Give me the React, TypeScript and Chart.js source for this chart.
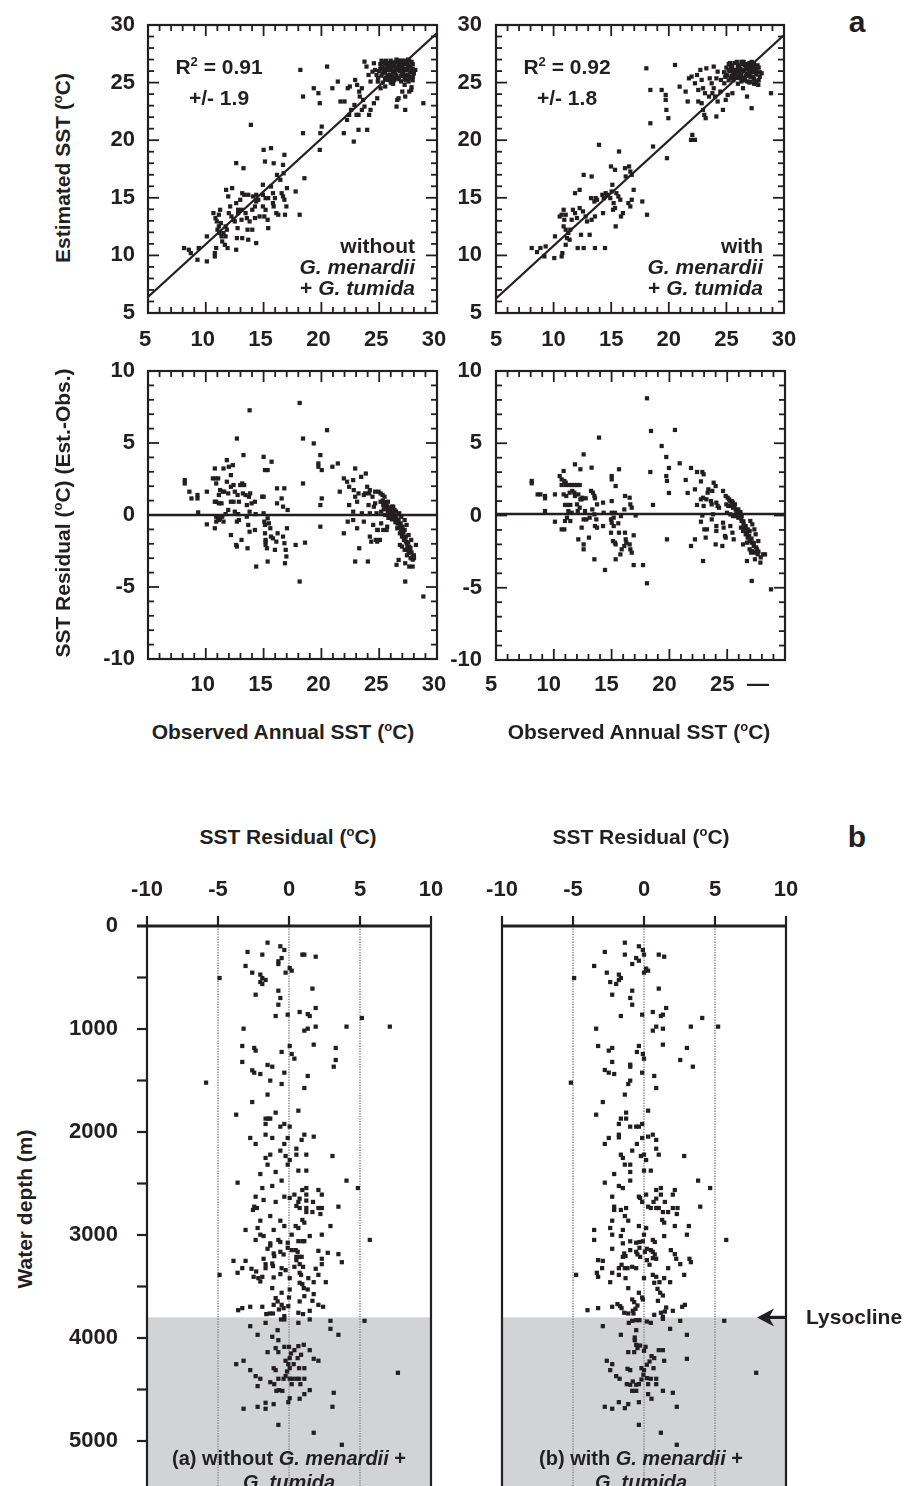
import React, { useEffect, useRef } from 'react';
import { Chart, registerables } from 'chart.js';

Chart.register(...registerables);

type Pair = [number, number];

const INK = '#231f20';
const SHADE = '#d1d3d4';
const GUIDE = '#8f8f8f';
const FONT = "'Liberation Sans', Arial, Helvetica, sans-serif";

// ---------------- DATA ----------------
// Axis values
const sstTicksMin = 5;
const sstTicksMax = 30;
const residMin = -10;
const residMax = 10;
const depthMin = 0;
const depthMax = 6000;
const residualGuides = [-5, 0, 5];
const residualMajor = [-10, -5, 0, 5, 10];
const panelBObsTicks = [5, 10, 15, 20, 25, 28.1]; // last label printed as a dash
const lysoclineDepth = 3800;

// Fit / reference lines
const fitWithout: Pair[] = [[5, 6.4], [30, 29.3]];
const fitWith: Pair[] = [[5, 6.27], [30, 29.13]];
const zeroLine: Pair[] = [[5, 0], [30, 0]];
const zeroLineWith: Pair[] = [[5, 0.1], [30, 0.1]];

// Panel a, top-left: observed vs estimated SST, without G. menardii + G. tumida
const estWithout: Pair[] = [
  [8.12,10.64],[8.53,10.49],[8.7,10.2],[9.39,10.64],[9.28,9.62],[10.09,9.48],[10.09,11.65],[10.78,9.91],[10.78,10.2],[10.9,10.64],
  [10.66,13.67],[10.84,13.24],[10.95,12.95],[11.01,12.23],[11.18,11.94],[11.36,11.65],[11.53,11.94],[11.71,11.65],[11.13,12.52],[11.3,12.8],
  [11.71,12.52],[11.82,12.23],[11.42,11.21],[11.65,10.92],[11.24,13.96],[11.13,13.53],[11.76,15.69],[11.94,15.12],[12.28,15.84],[12.11,14.25],
  [11.99,13.67],[12.22,13.38],[12.4,13.09],[11.88,10.64],[12.63,10.49],[12.63,14.54],[12.8,13.96],[12.8,13.67],[12.98,14.83],[12.51,12.95],
  [12.75,12.37],[13.09,13.09],[13.15,15.4],[13.32,15.26],[13.67,15.26],[13.44,13.67],[13.55,13.24],[13.79,12.95],[12.69,11.5],[13.15,11.5],
  [13.67,11.36],[13.61,12.23],[14.02,12.23],[13.09,13.96],[14.02,13.96],[14.25,14.25],[14.36,14.68],[12.63,18.01],[13.26,17.57],[14.25,13.24],
  [14.65,13.38],[14.36,11.07],[13.9,21.33],[14.08,15.12],[14.36,15.26],[14.54,14.83],[14.94,16.13],[14.94,15.26],[15.17,14.97],[15.4,14.97],
  [14.94,14.25],[15.17,13.96],[15.06,13.38],[15.35,13.09],[15.4,12.37],[15,19.16],[15.12,18.15],[15.64,19.31],[15.87,18],[15.64,15.98],
  [15.81,15.4],[15.98,14.97],[15.81,14.54],[15.87,14.25],[16.1,13.67],[16.27,13.53],[16.16,16.99],[16.45,16.56],[16.73,17.13],[16.56,15.4],
  [16.68,17.86],[16.8,18.73],[16.68,15.12],[16.8,14.83],[16.97,14.25],[16.85,13.53],[17.02,15.84],[17.77,15.55],[18.12,13.53],[18.53,16.7],
  [18.18,26.1],[18.41,23.79],[18.41,20.61],[19.86,23.21],[20.03,21.18],[19.91,20.61],[19.86,19.16],[19.34,24.51],[19.74,24.08],[20.49,26.39],
  [20.95,24.51],[21.42,25.09],[21.65,23.36],[21.94,20.61],[22,23.36],[22.28,24.51],[22.46,24.66],[22.22,21.76],[22.4,22.2],[22.57,22.63],
  [22.86,23.06],[22.8,19.88],[23.21,20.9],[23.96,20.9],[22.92,25.23],[23.09,24.8],[23.27,24.22],[23.5,24.51],[23.32,23.79],[23.04,22.2],
  [23.21,22.2],[23.5,22.63],[23.61,23.5],[23.73,22.92],[23.73,26.82],[23.9,26.39],[24.08,25.66],[24.25,25.09],[24.42,25.95],[24.13,22.2],
  [24.25,22.63],[24.54,23.21],[24.83,23.64],[24.54,26.68],[24.65,26.1],[24.77,25.66],[24.88,25.09],[25.12,24.51],[25.52,24.66],[25.75,25.23],
  [26.16,24.94],[26.39,25.37],[26.68,23.64],[26.56,23.5],[26.5,22.92],[27.25,22.63],[27,24.22],[27.25,23.79],[27.54,25.09],[27.77,24.36],
  [27.6,24.22],[28.12,26.1],[28.82,23.21],
];
const estWithoutCluster: Pair[] = [
  [25,26],[25.2,25.6],[25.3,26.3],[25.4,26.8],[25.5,25.9],[25.6,25.4],[25.7,26.5],[25.8,26.1],[25.9,25.7],[26,26.9],
  [26,26.3],[26.1,25.5],[26.2,26],[26.3,26.6],[26.4,25.8],[26.5,27],[26.5,26.2],[26.6,25.4],[26.7,26.7],[26.8,26],
  [26.9,25.6],[27,26.4],[27,26.9],[27.1,25.9],[27.2,25.3],[27.3,26.6],[27.4,26.1],[27.5,25.7],[27.5,27],[27.6,26.4],
  [27.7,25.5],[27.8,26],[27.9,26.6],[27.9,25.2],[28,25.8],[26.2,24.9],[25.3,25],[27.2,24.8],[27.8,24.6],[26,25],
  [25.6,26.9],[26.8,26.9],[26.3,25.2],[27.6,26.9],[24.9,25.4],[25.1,26.6],[26.6,26.4],[27.3,25.6],[25.8,25.3],[26.9,25.1],
  [25.4,26.1],[25.9,26.4],[26.4,26.8],[26.8,26.4],[27.1,26.2],[27.7,26.3],[25.6,26.2],[26.2,26.7],[27.4,26.7],[25.2,26.9],
  [25.1,26.2],[25.3,25.8],[25.5,26.6],[25.7,25.6],[25.9,26.1],[26.1,26.6],[26.3,25.9],[26.5,25.6],[26.7,26.1],[26.9,26.8],
  [27.1,25.6],[27.3,26.2],[27.5,26.5],[27.7,25.9],[27.9,26.2],[25.5,25.3],[26.1,25.2],[26.7,25.3],[27.3,25.2],[27.9,25.5],
  [25.2,26.4],[25.8,26.7],[26.4,26.3],[27,25.8],[27.6,25.4],[26.6,26.9],[25.9,25.4],[27.2,26.9],[27.8,26.8],[26.2,26.4],
];

// Panel a, top-right: with G. menardii + G. tumida
const estWith: Pair[] = [
  [8.1,10.64],[8.56,10.29],[8.85,10.64],[9.2,9.91],[9.31,10.78],[10.06,9.77],[10.12,11.65],[10.7,9.91],[10.76,10.2],[10.53,13.38],
  [10.7,13.53],[10.87,13.96],[11.05,13.53],[10.93,13.09],[10.87,12.52],[11.05,12.23],[11.28,11.94],[11.45,12.23],[11.16,11.5],[11.39,11.36],
  [11.05,10.92],[11.57,13.09],[11.68,13.96],[11.86,13.67],[12.03,13.24],[11.86,15.4],[12.26,15.69],[12.09,10.64],[12.61,10.64],[12.38,11.79],
  [13.13,11.79],[12.61,16.99],[13.3,16.85],[12.26,14.11],[12.55,13.82],[12.78,13.38],[12.9,12.95],[13.3,13.09],[13.59,13.38],[13.25,14.97],
  [13.54,14.68],[13.65,14.97],[13.77,14.83],[13.59,10.64],[14.46,10.64],[13.94,19.6],[14.23,15.26],[14.35,14.97],[14.52,15.4],[14.64,15.26],
  [14.29,13.67],[14.98,17.72],[15.33,17.43],[15.1,16.13],[15.04,15.55],[14.92,14.97],[15.21,14.54],[15.16,13.96],[15.33,14.11],[15.39,12.52],
  [15.68,19.02],[15.45,15.4],[15.62,15.12],[15.79,14.83],[15.85,13.38],[16.02,13.67],[16.2,17.57],[16.26,16.85],[16.55,17.72],[16.66,17.28],
  [16.78,16.99],[16.95,15.69],[16.78,14.83],[16.49,14.54],[16.66,14.25],[17.7,14.68],[18.11,13.53],[18.05,26.24],[18.4,24.36],[18.4,21.47],
  [18.63,19.45],[19.38,24.36],[19.73,23.93],[19.73,23.5],[19.79,22.63],[19.96,21.91],[19.84,18.44],[20.54,26.53],[20.94,24.65],[21.46,24.22],
  [21.64,23.36],[21.75,25.37],[21.93,20.03],[22.04,20.46],[22.27,20.03],[21.98,25.52],[22.27,24.94],[22.45,25.66],[22.56,24.36],[22.74,26.1],
  [22.85,25.23],[22.97,24.51],[23.14,24.08],[22.56,23.36],[22.85,23.21],[22.97,22.63],[23.08,22.2],[23.2,21.91],[23.26,26.24],[23.55,25.37],
  [23.72,24.94],[23.9,24.51],[23.9,26.39],[24.13,25.37],[24.24,25.95],[23.49,23.79],[23.78,24.08],[24.01,23.79],[24.24,23.36],[24.47,24.22],
  [24.13,22.06],[24.7,22.63],[24.94,23.5],[25.11,23.93],[24.53,25.23],[24.82,24.94],[25.52,24.08],[26.44,24.51],[26.79,23.79],[27.19,22.78],
  [27.08,25.09],[27.48,24.94],[27.77,24.8],[28.06,25.81],[28.87,24.08],
];
const estWithCluster: Pair[] = [
  [24.8,25.9],[25,26.3],[25.1,25.6],[25.2,26.6],[25.3,26],[25.4,25.4],[25.5,26.4],[25.6,25.8],[25.7,26.7],[25.8,26.1],
  [25.9,25.5],[26,26.5],[26.1,25.9],[26.2,26.2],[26.3,25.6],[26.4,26.6],[26.5,26],[26.6,25.4],[26.7,26.3],[26.8,25.8],
  [26.9,26.6],[27,26.1],[27.1,25.5],[27.2,26.4],[27.3,25.9],[27.4,25.3],[27.5,26.2],[27.6,25.7],[27.7,26.5],[27.8,25.2],
  [27.9,25.9],[27.4,24.9],[27,25],[26.3,25.1],[25.6,25.2],[25.9,26.8],[26.5,26.8],[27.2,26.8],[26,24.9],[26.8,25.1],
  [27.6,25.1],[25.2,25.2],[24.9,25.5],[26.4,25.4],[25.4,26.2],[26.1,26.4],[26.7,26.6],[27.3,26.5],[25.8,25.6],[26.9,25.6],
  [25,25.7],[25.2,26.1],[25.4,26.5],[25.6,26.1],[25.8,25.9],[26,26.2],[26.2,25.7],[26.4,26.1],[26.6,26.5],[26.8,26.2],
  [27,25.8],[27.2,26.1],[27.4,26.6],[27.6,26],[27.8,26.3],[25.5,25.6],[26.1,25.4],[26.7,25.6],[27.3,25.5],[27.9,25.5],
  [25.3,26.7],[26.3,26.8],[27,26.7],[26.5,25.2],[25.7,25.4],
];

// Panel a, bottom-left: residual (Est.-Obs.) without
const residWithout: Pair[] = [
  [8.18,2.42],[8.18,2.19],[8.58,1.62],[8.76,1.15],[9.28,1.39],[9.28,1.15],[9.34,0.18],[10.09,1.62],[10.09,-0.65],[10.78,-0.92],
  [10.61,2.54],[10.84,2.54],[11.07,2.54],[10.78,3.23],[10.9,2.19],[10.78,0.92],[10.9,0.92],[11.13,0.81],[11.36,0.81],[11.13,1.39],
  [11.24,1.73],[11.47,1.62],[11.59,1.62],[10.9,-0.12],[11.07,-0.23],[11.24,-0.23],[11.42,-0.12],[11.53,-0.46],[10.9,-0.46],[11.13,-0.35],
  [11.53,3.23],[11.82,3.81],[12.17,2.77],[11.82,2.31],[11.71,0.06],[11.94,0.35],[12.17,0.92],[12.4,0.92],[11.94,1.5],[12.17,1.96],
  [12.4,2.08],[12.51,1.62],[12.17,-1.39],[12.63,-2.08],[12.69,-2.19],[11.99,3.35],[12.34,3.46],[12.69,5.31],[12.51,0.23],[12.69,-0.46],
  [12.8,0.06],[12.86,-0.35],[12.75,1.39],[12.86,0.92],[12.98,2.08],[13.15,2.19],[13.32,2.08],[13.21,1.5],[13.09,-1.73],[13.26,4.16],
  [13.44,1.39],[13.55,0.69],[13.73,1.27],[13.79,0.23],[13.55,-0.12],[13.67,-0.69],[13.79,-1.16],[13.61,-2.31],[13.79,7.27],[13.84,1.5],
  [13.96,0.81],[14.25,0.92],[14.31,0.06],[14.25,-1.04],[14.36,-3.58],[14.88,1.27],[15,1.27],[15,0.12],[15.06,-0.46],[15.12,-0.69],
  [15.12,-1.27],[15.17,-1.73],[15,4.04],[15.12,3.12],[15.35,3.12],[15.17,-1.85],[15.17,-2.08],[15.29,-2.31],[15.35,-0.23],[15.46,-0.58],
  [15.58,-0.92],[15.64,-1.5],[15.35,-3.23],[15.69,3.7],[15.81,-1.62],[15.98,-2.42],[16.1,-1.85],[16.21,-1.27],[16.16,1.85],[16.16,0.81],
  [16.56,1.15],[16.68,0.58],[16.79,1.85],[16.68,-1.5],[16.8,-1.96],[16.91,-2.42],[16.97,-2.88],[16.85,-3.35],[17.02,-0.92],[17.08,0.35],
  [17.77,-2.08],[18.12,7.78],[18.12,-4.62],[18.41,5.31],[18.41,2.19],[18.58,-1.92],[19.34,4.97],[19.74,3.58],[19.74,3.35],[19.91,4.16],
  [20.03,3.12],[19.91,0.69],[19.91,-0.81],[20.03,1.15],[20.49,5.89],[20.95,3.35],[21.42,3.58],[21.59,1.62],[21.94,2.54],[21.94,-1.27],
  [22.22,2.31],[22.4,1.96],[22.4,0.69],[22.28,-0.46],[22.75,2.42],[22.92,3.23],[22.8,1.73],[22.92,1.27],[23.09,0.92],[22.75,0.23],
  [22.75,-0.35],[22.92,-3.23],[23.09,-0.92],[23.27,-2.31],[23.21,1.5],[23.44,2.65],[23.67,1.39],[23.79,1.5],[23.5,0.12],[23.67,-0.46],
  [23.84,2.88],[23.96,1.96],[24.08,0.69],[24.13,1.5],[24.19,0.12],[24.02,-3.23],[24.19,-1.5],[24.31,-1.85],[24.48,-0.69],[24.65,1.62],
  [24.65,0.81],[24.77,0.12],[24.83,-1.04],[24.83,-1.85],[24.94,1.62],[25.12,1.5],[25.29,1.39],[25.46,1.27],[25.12,0.92],[25.35,0.69],
  [25.58,0.81],[25.75,0.92],[25.17,0.23],[25.52,0],[25.75,0.23],[25.98,0],[26.21,-0.12],[26.1,0.58],[26.33,0.35],[25.17,-0.58],
  [25.35,-1.04],[24.88,-1.04],[25.06,-1.73],[25.64,-1.04],[25.69,-0.81],[26.5,-0.23],[26.68,-0.35],[26.85,-0.58],[27.02,-0.81],[27.2,-1.04],
  [26.56,-0.92],[26.79,-1.27],[26.97,-1.5],[27.14,-1.73],[27.31,-1.85],[26.79,-2.08],[26.97,-2.19],[27.2,-2.42],[27.43,-2.31],[27.54,-2.65],
  [27.66,-2.54],[27.72,-3],[27.25,-3.35],[27.6,-3.58],[27.89,-3.58],[28.01,-3],[28.18,-2.08],[26.5,-3.46],[26.68,-3.12],[27.2,-0.35],
  [27.37,-0.69],[27.54,-1.39],[27.77,-1.73],[26.21,0.58],[26.45,0.23],[26.73,0.12],[26.91,-0.12],[27.25,-4.62],[28.82,-5.66],[24.19,1.73],
  [24.42,1.27],[24.54,0.58],[24.71,-1.73],[25.9,0.5],[26,0.3],[26.3,-0.2],[26.4,-0.5],[26.6,-0.6],[26.9,-1],[27.1,-1.2],
  [27.3,-1.5],[27.5,-1.9],[27.6,-2.2],[27.8,-2.6],[28,-2.8],[25.4,0.4],[25.6,0.5],[25.8,-0.2],[26.1,-0.3],[27.4,-2.8],[27.9,-3.1],
  [25.3,1],[25.5,0.9],[25.7,0.6],[25.9,0.2],[26,-0.1],[26.2,0.1],[26.4,-0.3],[26.6,-0.4],[26.8,-0.8],[27,-1.3],
  [27.2,-1.6],[27.4,-2],[27.5,-2.4],[27.7,-2.3],[27.9,-2.9],
];

// Panel a, bottom-right: residual with
const residWith: Pair[] = [
  [8.09,2.39],[8.09,2.23],[8.6,1.46],[8.84,1.46],[9.24,1.35],[9.24,1.19],[9.24,0.31],[10.1,1.46],[10.1,-0.43],[10.51,2.73],
  [10.68,2.5],[10.85,3.08],[10.91,2.39],[11.03,2.27],[10.68,2.11],[11.03,2.11],[11.31,2.11],[11.55,2.11],[11.78,2.11],[12.01,2.11],
  [12.24,2.11],[10.85,1.46],[11.08,1.35],[11.37,1.58],[11.6,1.7],[11.78,1.58],[10.97,0.73],[11.2,0.73],[11.43,0.73],[12.01,0.77],
  [12.24,0.54],[10.68,-0.96],[10.91,-0.96],[10.97,-0.38],[11.14,-0.15],[11.43,-0.38],[11.55,0.19],[11.26,0.31],[11.83,3.54],[12.3,3.2],
  [12.41,1.12],[12.58,4.23],[11.83,1.35],[12.12,1.46],[12.3,1.12],[12.47,1.23],[12.76,1.19],[12.12,-1.65],[12.58,-2],[12.58,-2.34],
  [12.41,-0.84],[12.58,-0.27],[12.81,-0.27],[13.1,-0.15],[12.07,0.31],[12.7,0.31],[13.04,-1.53],[13.22,1.7],[13.39,1.58],[13.51,1.35],
  [13.56,1.19],[13.27,3.31],[13.33,0.42],[13.51,0.08],[13.68,-0.27],[13.74,-0.84],[13.56,-0.73],[13.51,-3.03],[13.74,0.77],[13.91,5.39],
  [14.26,0.89],[14.31,0.19],[14.26,-0.73],[14.43,-3.77],[15.01,2.73],[15.01,2.5],[15.01,1],[15.01,0.19],[14.95,-0.27],[15.01,-0.5],
  [14.95,-1.19],[15.18,-0.15],[15.18,-0.73],[15.29,0.19],[15.12,-1.77],[15.29,-1.88],[15.35,-2],[15.35,2.04],[15.35,-3.03],[15.58,-0.54],
  [15.64,-1.19],[15.64,3.2],[15.81,-0.04],[15.76,-2.69],[15.87,-2.34],[16.1,-2.11],[16.16,-1.19],[16.16,1.35],[16.1,0.42],[16.22,-1.65],
  [16.27,-1.88],[16.56,1.23],[16.62,0.77],[16.74,0.54],[16.56,-2],[16.62,-2.34],[16.74,-2.57],[16.91,-1.37],[16.91,-3.43],[17.08,0],
  [17.72,-3.43],[18.06,8.11],[18.06,-4.69],[18.41,5.85],[18.35,3.01],[18.58,0.73],[19.33,4.81],[19.73,4.05],[19.73,2.73],[19.79,2.39],
  [19.79,-1.65],[19.96,1.56],[19.96,3.29],[20.48,5.92],[20.89,3.61],[21.41,2.46],[21.58,1.56],[21.87,3.29],[21.87,-2.11],[22.21,-1.65],
  [22.21,1.81],[22.39,3.01],[22.39,0.73],[22.73,2.36],[22.73,1.12],[22.85,3.01],[22.96,2.85],[22.91,1.23],[22.85,0],[22.73,-0.43],
  [22.91,-3.15],[22.96,0.66],[23.02,-0.96],[23.14,-1.53],[23.25,-0.96],[23.2,1.12],[23.31,1.58],[23.37,1.81],[23.6,1],[23.71,1.7],
  [23.66,0.77],[23.66,-0.27],[23.77,0.08],[23.83,2.27],[24,2.04],[24.06,-0.73],[24.06,-1.07],[24,-2],[24.06,0.89],[24.17,0.66],
  [24.29,0.54],[24.58,-2.11],[24.64,1.7],[24.64,-0.5],[24.69,-0.84],[24.81,-1.42],[24.87,-1.53],[24.87,1.35],[25.04,1.23],[25.16,1.12],
  [25.27,1],[25.39,1],[25.5,0.89],[25.67,0.77],[24.93,0.77],[25.1,0.66],[25.33,0.66],[25.5,0.54],[25.73,0.42],[25.9,0.31],
  [24.98,0.19],[25.27,0.08],[25.5,-0.04],[25.73,-0.04],[25.96,-0.15],[26.14,0.08],[25.27,-0.73],[25.45,-1.19],[25.56,-1.65],[25.96,0.42],
  [26.14,0.24],[26.25,-0.04],[26.25,-0.38],[26.42,-0.61],[26.6,-0.73],[26.77,-0.96],[26.94,-1.07],[26.19,-0.84],[26.37,-1.07],[26.6,-1.3],
  [26.77,-1.53],[26.94,-1.77],[27.12,-1.88],[27.29,-2.11],[26.37,-2],[26.71,-1.88],[26.94,-2.34],[27.17,-2.46],[27.4,-2.57],[27.58,-2.34],
  [27.69,-1.77],[27,-0.38],[27.17,-0.61],[27.35,-0.96],[27.46,-1.3],[26.71,-3.15],[27.06,-2.57],[27.4,-3.03],[27.64,-2.69],[27.87,-3.26],
  [28.1,-2.69],[28.27,-2.69],[27.12,-4.53],[28.79,-5.11],
  [25.4,0.8],[25.6,0.6],[25.8,0.2],[26,0.1],[26.2,-0.2],[26.4,-0.4],[26.5,-0.9],[26.7,-1.2],[26.9,-1.4],[27.1,-1.6],
  [27.3,-1.9],[27.5,-2.2],[27.7,-2.5],[27.9,-2.9],
];

// Panel b, left: residual vs water depth, without
const depthWithout: Pair[] = [
  [-1.51,162],[-0.61,197],[-0.33,233],[-2.92,252],[-1.88,278],[0.94,278],[1.08,278],[1.88,298],[-0.52,311],[-0.75,343],
  [-0.75,369],[-3.06,388],[0.05,408],[0.19,434],[-0.24,453],[-2.59,453],[-2.02,472],[-1.88,505],[-1.65,524],[-4.89,505],
  [-2.02,544],[-1.88,563],[1.65,608],[-0.75,628],[-2.35,667],[-0.61,699],[-0.75,764],[1.88,796],[0.75,835],[-0.09,861],
  [1.32,855],[1.46,874],[-0.94,874],[5.13,893],[-3.2,997],[1.08,1016],[1.32,997],[1.88,977],[4.05,977],[7.1,977],
  [-3.29,1165],[-2.45,1184],[-2.35,1210],[0.05,1165],[1.74,1152],[3.29,1184],[-0.52,1223],[0.19,1243],[0.38,1288],[3.29,1301],
  [-3.29,1320],[-1.51,1349],[-1.18,1366],[3.15,1366],[-2.59,1401],[-2.45,1424],[-2.02,1437],[-0.33,1424],[1.32,1456],[-5.84,1521],
  [-1.32,1501],[-0.52,1534],[1.08,1573],[-1.51,1637],[-2.59,1709],[0.66,1793],[-0.94,1812],[-3.72,1832],[-1.65,1870],[-1.46,1870],
  [-1.32,1870],[-1.65,1922],[-0.33,1922],[-0.61,1948],[0.05,1948],[-1.65,2026],[1.08,2026],[1.74,2045],[-2.73,2058],[-1.18,2058],
  [-0.09,2058],[0.89,2077],[-2.35,2116],[-0.33,2116],[0.52,2162],[-0.61,2181],[-1.32,2220],[-1.65,2252],[-0.24,2233],[0.52,2220],
  [1.22,2220],[3.06,2233],[0.05,2272],[-1.51,2317],[-0.09,2317],[-2.02,2408],[-0.94,2388],[0.66,2375],[1.22,2375],[-3.62,2492],
  [-0.52,2472],[4.05,2472],[4.85,2544],[-1.88,2544],[-1.18,2524],[0.94,2563],[1.22,2544],[2.07,2563],[2.31,2608],[0.38,2608],
  [1.22,2608],[-0.33,2628],[0.05,2640],[-2.35,2628],[-1.79,2660],[-0.94,2679],[0.75,2647],[0.66,2679],[1.22,2666],[1.69,2679],
  [-2.45,2725],[-2.26,2738],[-2.54,2757],[0.52,2718],[0.75,2738],[1.22,2738],[1.22,2777],[1.65,2777],[2.07,2738],[2.31,2738],
  [2.21,2796],[3.48,2725],[-1.32,2816],[-2.02,2861],[-0.61,2861],[0.94,2854],[1.08,2880],[-0.33,2913],[0.47,2913],[0.66,2932],
  [2.92,2913],[-3.06,2951],[-2.21,2932],[-1.08,2951],[-2.02,2997],[-1.79,3010],[0.19,2997],[1.46,3010],[2.31,2997],[5.69,3048],
  [-2.35,3048],[-0.75,3048],[-0.61,3068],[-0.09,3075],[0.66,3060],[0.94,3060],[1.08,3060],[-1.32,3081],
  [-1.51,3134],[-1.32,3102],[-1.08,3179],[-1.04,3205],[-0.61,3163],[-0.38,3189],[-0.09,3124],[0.19,3147],[0.47,3147],[0.61,3163],
  [0.52,3212],[0.71,3212],[0.52,3244],[0.89,3212],[2.07,3154],[2.31,3231],[2.31,3283],[2.73,3173],[3.48,3186],[3.72,3264],
  [-1.79,3231],[-1.65,3283],[-1.13,3302],[-1.18,3277],[-1.65,3322],[-3.91,3251],[-3.06,3251],[-3.29,3322],[-3.62,3367],[-2.64,3328],
  [-2.31,3354],[-2.49,3406],[-2.16,3419],[-1.88,3406],[-2.02,3451],[-4.89,3387],[-0.61,3380],[-1.08,3412],[-0.52,3322],[-0.24,3341],
  [0.05,3419],[0.38,3309],[0.75,3283],[0.75,3367],[0.85,3387],[0.99,3309],[1.88,3328],[2.07,3387],[1.74,3458],[2.59,3458],
  [1.36,3419],[0.75,3464],[0.94,3477],[-1.18,3516],[-0.52,3561],[0.05,3529],[1.04,3516],[1.32,3529],[1.08,3594],[1.74,3574],
  [1.65,3639],[2.07,3678],[2.4,3697],[-0.94,3613],[-0.8,3645],[-1.08,3678],[-0.52,3678],[-0.38,3710],[-0.71,3723],[0,3607],
  [-0.05,3691],[0.75,3645],[-3.58,3730],[-3.29,3710],[-2.73,3697],[-1.88,3697],[-1.6,3768],[-1.36,3762],[-1.13,3762],[-0.56,3820],
  [-0.33,3820],[-0.33,3788],[0.66,3755],[0.99,3768],[1.46,3736],[0.66,3853],[1.46,3820],[2.92,3833],[2.92,3911],[3.48,3969],
  [5.32,3833],[-2.73,3885],[-1.65,3853],[-2.21,3969],[-1.18,3988],[-0.8,3924],[-0.75,4021],[-0.33,4086],[0,4086],[0.38,4118],
  [0.66,4079],[1.04,4066],[0.14,4150],[0.05,4195],[-1.51,4137],[-0.94,4098],[-0.75,4137],[1.46,4118],[0.85,4163],[0.61,4195],
  [1.74,4202],[2.07,4221],[-3.72,4254],[-3.2,4221],[-2.73,4312],[-0.24,4221],[-0.05,4254],[0.05,4293],[0.33,4254],[0.71,4293],
  [1.08,4293],[-1.08,4293],[-0.94,4312],[-2.35,4370],[-2.02,4396],[-2.21,4467],[-1.32,4429],[-1.04,4448],[-0.75,4396],[-0.38,4396],
  [-0.24,4370],[-0.14,4325],[0.05,4396],[0.24,4396],[0.52,4396],[0.71,4396],[1.08,4396],[-0.89,4513],[-0.71,4506],[-0.47,4513],
  [0.19,4448],[0.8,4448],[1.46,4506],[1.08,4545],[0.75,4590],[0.05,4584],[-0.05,4623],[3.15,4532],[3.06,4668],[-3.2,4687],
  [-2.21,4668],[-1.65,4629],[-1.65,4687],[-1.08,4642],[7.67,4338],[-0.75,4843],[1.74,4920],[3.72,5037],
];

// Panel b, right: residual vs water depth, with
const depthWith: Pair[] = [
  [-1.35,162],[-0.36,197],[-0.08,233],[-2.76,252],[-1.35,278],[0,278],[1.04,278],[1.42,298],[-0.55,311],[-0.36,337],
  [-0.83,369],[-3.51,388],[0.15,414],[0.29,434],[0,453],[-2.62,453],[-1.77,472],[-1.63,505],[-1.77,524],[-4.92,505],
  [-2.38,544],[-1.96,563],[1.04,608],[-0.83,628],[-2.24,667],[-0.97,699],[-0.83,764],[1.56,796],[0.62,835],[-0.13,861],
  [1.33,861],[1.19,874],[-1.63,874],[4.1,893],[-3.37,997],[0.86,977],[0.62,1016],[1.33,997],[3.3,977],[5.22,977],
  [-3.23,1165],[-2.48,1210],[-2.24,1184],[-0.36,1165],[1.33,1152],[3.02,1184],[-0.5,1223],[-0.08,1243],[0,1288],[2.55,1301],
  [-2.24,1320],[-0.97,1346],[-0.97,1366],[3.44,1366],[-2.76,1398],[-2.48,1424],[-2.1,1437],[-0.13,1424],[0.72,1456],[-5.15,1521],
  [-0.97,1501],[-1.11,1534],[0.86,1573],[-1.35,1637],[-2.9,1709],[0.29,1793],[-1.26,1812],[-3.37,1832],[-1.63,1870],[-1.26,1870],
  [-1.77,1922],[-0.97,1948],[-0.55,1948],[-0.36,1948],[-0.13,1922],[-1.77,2026],[-1.77,2052],[-2.48,2058],[-2.76,2116],[-0.13,2058],
  [0.29,2045],[0.62,2026],[0.86,2077],[-0.5,2116],[0.86,2162],[-0.83,2181],[-1.63,2220],[-1.49,2252],[-0.22,2233],[0,2220],
  [1.04,2220],[2.83,2233],[0.15,2272],[-1.35,2317],[-0.97,2317],[0,2375],[0.48,2375],[-0.97,2388],[-2.1,2408],[-2.76,2492],
  [-0.97,2472],[3.81,2472],[4.66,2544],[-1.77,2524],[-1.49,2544],[0.86,2563],[1.19,2544],[2.17,2563],[2.03,2608],[0.15,2608],
  [1.19,2608],[-0.36,2628],[-0.27,2640],[-2.24,2628],[-0.13,2679],[0.67,2679],[0.86,2647],[1.47,2679],[-2.1,2725],[-2.1,2757],
  [-1.63,2757],[-1.26,2738],[0.29,2725],[0.48,2738],[0.86,2738],[1.04,2738],[1.33,2777],[1.7,2777],[2.03,2738],[2.36,2738],
  [2.31,2796],[3.96,2725],[-1.35,2816],[-1.11,2861],[-2.24,2861],[1.28,2854],[1.42,2880],[-0.36,2913],[0.15,2932],[2.17,2913],
  [3.16,2913],[-3.51,2951],[-2.38,2932],[-1.49,2951],[-2.24,2997],[-1.63,3010],[0,2997],[1.42,3010],[3.02,2997],[5.79,3048],
  [-3.51,3048],[-0.97,3061],[-0.55,3075],[-0.32,3068],[-0.08,3061],[0.62,3048],[0.76,3068],[-1.49,3081],
  [-2.24,3134],[-1.49,3212],[-1.3,3205],[-1.39,3179],[-0.97,3147],[-0.55,3163],[-0.32,3124],[-0.46,3189],[-0.27,3212],[0.06,3163],
  [0.2,3134],[0.48,3147],[0.62,3163],[0.76,3189],[0.62,3225],[0.86,3231],[0.2,3244],[0.39,3289],[1.89,3147],[2.17,3186],
  [2.27,3231],[2.55,3283],[3.2,3231],[3.3,3264],[-3.23,3244],[-2.9,3251],[-2.95,3322],[-1.77,3322],[-1.58,3289],[-1.35,3322],
  [-1.16,3322],[-0.83,3309],[-0.55,3322],[-4.78,3387],[-3.32,3367],[-3.23,3406],[-2.24,3367],[-1.77,3387],[-2.38,3458],[-1.3,3419],
  [0,3419],[0.62,3387],[0.86,3406],[0.72,3464],[1.09,3458],[1.42,3419],[1.84,3458],[1.7,3322],[2.83,3387],[-1.11,3516],
  [-0.36,3561],[-0.13,3607],[-0.08,3626],[0.95,3523],[1.14,3561],[1.33,3587],[0.98,3639],[-0.83,3626],[-0.69,3652],[-0.46,3684],
  [-0.6,3717],[-0.79,3736],[-3.98,3730],[-3.23,3710],[-2.24,3697],[-1.87,3671],[-1.68,3691],[-1.58,3710],[-1.39,3755],[-1.11,3762],
  [-0.74,3762],[1.56,3704],[1.47,3743],[2.03,3736],[2.69,3697],[2.88,3678],[1.19,3755],[0.72,3775],[1.33,3794],[-1.07,3853],
  [-0.83,3833],[-0.55,3827],[-0.32,3827],[0.2,3840],[0.48,3853],[1.33,3814],[2.55,3833],[1.84,3911],[3.02,3969],[5.65,3833],
  [-2.9,3885],[-1.63,3969],[-0.55,3924],[-0.65,3995],[-0.65,4021],[-1.11,4137],[-0.69,4137],[-0.46,4098],[-0.55,4066],[-0.27,4073],
  [0.11,4086],[0,4124],[1.04,4118],[1.33,4118],[0.53,4176],[0.72,4195],[0.39,4228],[0.2,4260],[1.42,4221],[3.02,4202],
  [-2.62,4221],[-2.24,4254],[-2.38,4312],[-1.16,4299],[-0.97,4312],[-0.18,4293],[0,4312],[0.67,4293],[-0.04,4357],[0.2,4390],
  [0.48,4396],[0.86,4396],[-1.96,4370],[-1.72,4396],[-1.21,4448],[-0.97,4454],[-0.79,4422],[-0.55,4454],[-0.36,4448],[-0.18,4403],
  [0.29,4448],[0.86,4448],[-0.83,4513],[-0.55,4513],[1.33,4513],[2.03,4532],[0.29,4545],[0.53,4590],[-0.36,4623],[-2.76,4668],
  [-2.24,4687],[-1.77,4623],[-1.35,4681],[-1.11,4642],[2.31,4668],[7.9,4338],[-0.36,4843],[1.19,4920],[2.31,5037],
];

// ---------------- CHART PLUMBING ----------------
type Area = { l: number; t: number; r: number; b: number };
type Margins = { l: number; t: number; r: number; b: number };
type AxisSpec = {
  min: number; max: number; step: number; position: 'left' | 'bottom' | 'top';
  padding: number; labelOffset?: number; values?: number[];
  label?: (v: number) => string; display?: boolean; reverse?: boolean;
};
type PanelSpec = {
  area: Area; m: Margins; x: AxisSpec; y: AxisSpec;
  points: Pair[]; lines?: { pts: Pair[]; width: number }[];
  frame: any;
};

const tickFont = { family: FONT, weight: 'bold' as const, size: 22 };

function seg(ctx: CanvasRenderingContext2D, x1: number, y1: number, x2: number, y2: number) {
  ctx.beginPath(); ctx.moveTo(x1, y1); ctx.lineTo(x2, y2); ctx.stroke();
}

const framePlugin = {
  id: 'frame',
  beforeDatasetsDraw(chart: any, _a: any, o: any) {
    if (!o || o.kind !== 'depth') return;
    const { ctx, chartArea: a } = chart;
    const xs = chart.scales.x, ys = chart.scales.y;
    ctx.save();
    const ly = ys.getPixelForValue(o.shadeFrom);
    ctx.fillStyle = SHADE;
    ctx.fillRect(a.left, ly, a.right - a.left, a.bottom - ly);
    ctx.strokeStyle = GUIDE; ctx.lineWidth = 1.6; ctx.setLineDash([1.3, 1.3]);
    for (const v of o.guides) { const px = xs.getPixelForValue(v); seg(ctx, px, a.top, px, a.bottom); }
    ctx.restore();
  },
  afterDatasetsDraw(chart: any, _a: any, o: any) {
    if (!o) return;
    const { ctx, chartArea: a } = chart;
    const xs = chart.scales.x, ys = chart.scales.y;
    ctx.save();
    ctx.strokeStyle = INK; ctx.fillStyle = INK; ctx.lineCap = 'butt';
    if (o.kind === 'box') {
      ctx.lineWidth = 1.8;
      const nx = Math.round((xs.max - xs.min) / o.xMinor);
      for (let i = 0; i <= nx; i++) {
        const v = xs.min + i * o.xMinor;
        const px = xs.getPixelForValue(v);
        const major = Math.abs(v / o.xMajor - Math.round(v / o.xMajor)) < 1e-6;
        const L = major ? 11 : 6;
        seg(ctx, px, a.bottom, px, a.bottom - L);
        seg(ctx, px, a.top, px, a.top + L);
      }
      const ny = Math.round((ys.max - ys.min) / o.yMinor);
      for (let i = 0; i <= ny; i++) {
        const v = ys.min + i * o.yMinor;
        const py = ys.getPixelForValue(v);
        const major = Math.abs(v / o.yMajor - Math.round(v / o.yMajor)) < 1e-6;
        const L = major ? 11 : 6;
        seg(ctx, a.left, py, a.left + L, py);
        seg(ctx, a.right, py, a.right - L, py);
      }
      ctx.lineWidth = 2.2;
      ctx.strokeRect(a.left, a.top, a.right - a.left, a.bottom - a.top);
    } else if (o.kind === 'depth') {
      ctx.lineWidth = 2.2;
      seg(ctx, a.left, a.top, a.left, a.bottom);
      seg(ctx, a.right, a.top, a.right, a.bottom);
      if (o.leftTicks) {
        for (let d = ys.min; d <= ys.max; d += o.leftTicks) {
          const py = ys.getPixelForValue(d);
          seg(ctx, a.left - 10, py, a.left, py);
        }
      }
      for (const v of o.major) {
        const px = xs.getPixelForValue(v);
        seg(ctx, px, a.top, px, a.top - 10);
      }
      ctx.lineWidth = 3;
      seg(ctx, o.leftTicks ? a.left - 10 : a.left - 1, a.top, a.right + 1, a.top);
      if (o.arrow) {
        const py = ys.getPixelForValue(o.shadeFrom);
        const tip = a.right - 29;
        ctx.beginPath();
        ctx.moveTo(tip, py);
        ctx.lineTo(tip + 17, py - 9);
        ctx.lineTo(tip + 12, py);
        ctx.lineTo(tip + 17, py + 9);
        ctx.closePath();
        ctx.fill();
        ctx.fillRect(tip + 11, py - 1.6, a.right - tip - 11, 3.2);
      }
    }
    ctx.restore();
  },
};

function axisOptions(s: AxisSpec, size: number) {
  const horiz = s.position !== 'left';
  return {
    type: 'linear' as const,
    position: s.position,
    min: s.min,
    max: s.max,
    reverse: !!s.reverse,
    grid: { display: false, drawTicks: false },
    border: { display: false },
    ticks: {
      display: s.display !== false,
      stepSize: s.step,
      autoSkip: false,
      maxRotation: 0,
      minRotation: 0,
      padding: s.padding,
      labelOffset: s.labelOffset || 0,
      font: tickFont,
      color: INK,
      callback: (v: any) => (s.label ? s.label(Number(v)) : String(v)),
    },
    afterBuildTicks: (scale: any) => {
      if (s.values) scale.ticks = s.values.map((v) => ({ value: v }));
    },
    afterFit: (scale: any) => {
      if (horiz) scale.height = size; else scale.width = size;
    },
  };
}

function buildConfig(spec: PanelSpec): any {
  const { m } = spec;
  const xTop = spec.x.position === 'top';
  const datasets: any[] = [];
  (spec.lines || []).forEach((l) => {
    datasets.push({
      data: l.pts.map(([x, y]) => ({ x, y })),
      showLine: true,
      borderColor: INK,
      borderWidth: l.width,
      pointRadius: 0,
      order: 2,
    });
  });
  datasets.push({
    data: spec.points.map(([x, y]) => ({ x, y })),
    pointStyle: 'rect',
    pointRadius: 3,
    backgroundColor: INK,
    pointBackgroundColor: INK,
    borderWidth: 0,
    pointBorderWidth: 0,
    order: 1,
  });
  return {
    type: 'scatter',
    data: { datasets },
    options: {
      animation: false,
      responsive: false,
      maintainAspectRatio: false,
      events: [],
      layout: { padding: { left: 0, right: m.r, top: xTop ? 0 : m.t, bottom: xTop ? m.b : 0 } },
      plugins: { legend: { display: false }, tooltip: { enabled: false }, frame: spec.frame },
      scales: {
        x: axisOptions(spec.x, xTop ? m.t : m.b),
        y: axisOptions(spec.y, m.l),
      },
    },
    plugins: [framePlugin],
  };
}

function ChartPanel({ spec }: { spec: PanelSpec }) {
  const ref = useRef<HTMLCanvasElement>(null);
  useEffect(() => {
    const chart = new Chart(ref.current as HTMLCanvasElement, buildConfig(spec));
    return () => chart.destroy();
  }, [spec]);
  const { area, m } = spec;
  const w = area.r - area.l + m.l + m.r;
  const h = area.b - area.t + m.t + m.b;
  return (
    <canvas
      ref={ref}
      width={w}
      height={h}
      style={{ position: 'absolute', left: area.l - m.l, top: area.t - m.t, width: w, height: h }}
    />
  );
}

// ---------------- PANELS ----------------
const boxFrame = { kind: 'box', xMinor: 1, xMajor: 5, yMinor: 1, yMajor: 5 };
const topM: Margins = { l: 60, t: 32, r: 34, b: 45 };
const midM: Margins = { l: 60, t: 32, r: 34, b: 45 };

const specs: PanelSpec[] = [
  {
    area: { l: 148, t: 25, r: 437, b: 313 }, m: topM,
    x: { min: sstTicksMin, max: sstTicksMax, step: 5, position: 'bottom', padding: 14, labelOffset: -3 },
    y: { min: sstTicksMin, max: sstTicksMax, step: 5, position: 'left', padding: 13 },
    points: [...estWithout, ...estWithoutCluster],
    lines: [{ pts: fitWithout, width: 2.2 }],
    frame: boxFrame,
  },
  {
    area: { l: 496, t: 25, r: 784, b: 313 }, m: topM,
    x: { min: sstTicksMin, max: sstTicksMax, step: 5, position: 'bottom', padding: 14 },
    y: { min: sstTicksMin, max: sstTicksMax, step: 5, position: 'left', padding: 14 },
    points: [...estWith, ...estWithCluster],
    lines: [{ pts: fitWith, width: 2.2 }],
    frame: boxFrame,
  },
  {
    area: { l: 148, t: 371, r: 437, b: 659 }, m: midM,
    x: { min: sstTicksMin, max: sstTicksMax, step: 5, position: 'bottom', padding: 13, labelOffset: -3,
         label: (v) => (v === 5 ? '' : String(v)) },
    y: { min: residMin, max: residMax, step: 5, position: 'left', padding: 13 },
    points: residWithout,
    lines: [{ pts: zeroLine, width: 2.6 }],
    frame: boxFrame,
  },
  {
    area: { l: 496, t: 371, r: 785, b: 660 }, m: midM,
    x: { min: sstTicksMin, max: sstTicksMax, step: 5, position: 'bottom', padding: 12, labelOffset: -5,
         values: panelBObsTicks, label: (v) => (v > 27 && v < 30 ? '\u2014' : String(v)) },
    y: { min: residMin, max: residMax, step: 5, position: 'left', padding: 14 },
    points: residWith,
    lines: [{ pts: zeroLineWith, width: 2.6 }],
    frame: boxFrame,
  },
  {
    area: { l: 147, t: 926, r: 431, b: 1544 }, m: { l: 90, t: 70, r: 42, b: 48 },
    x: { min: residMin, max: residMax, step: 5, position: 'top', padding: 23 },
    y: { min: depthMin, max: depthMax, step: 1000, position: 'left', padding: 29, reverse: true },
    points: depthWithout,
    frame: { kind: 'depth', shadeFrom: lysoclineDepth, guides: residualGuides, major: residualMajor, leftTicks: 500, arrow: false },
  },
  {
    area: { l: 502, t: 926, r: 786, b: 1544 }, m: { l: 46, t: 70, r: 42, b: 48 },
    x: { min: residMin, max: residMax, step: 5, position: 'top', padding: 23 },
    y: { min: depthMin, max: depthMax, step: 1000, position: 'left', padding: 10, reverse: true, display: false },
    points: depthWith,
    frame: { kind: 'depth', shadeFrom: lysoclineDepth, guides: residualGuides, major: residualMajor, leftTicks: 0, arrow: true },
  },
];

// ---------------- TEXT ----------------
function Txt(props: {
  x: number; y: number; children: React.ReactNode; anchor?: 'center' | 'right' | 'left';
  rotate?: boolean; size?: number; lh?: number;
}) {
  const { x, y, anchor = 'center', rotate = false, size = 21, lh } = props;
  const tx = anchor === 'center' ? '-50%' : anchor === 'right' ? '-100%' : '0';
  return (
    <div
      style={{
        position: 'absolute', left: x, top: y,
        transform: `translate(${tx}, -50%)${rotate ? ' rotate(-90deg)' : ''}`,
        transformOrigin: rotate ? '50% 50%' : undefined,
        fontFamily: FONT, fontWeight: 'bold', fontSize: size, color: INK,
        whiteSpace: 'nowrap', lineHeight: lh ? `${lh}px` : 'normal',
        textAlign: anchor === 'right' ? 'right' : 'center',
      }}
    >
      {props.children}
    </div>
  );
}

const supStyle: React.CSSProperties = { fontSize: '0.62em', verticalAlign: '0.6em', lineHeight: 0 };
const degC = (<><sup style={supStyle}>o</sup>C</>);

export default function App() {
  return (
    <div
      style={{
        position: 'fixed', left: 0, top: 0, width: 907, height: 1486,
        overflow: 'hidden', background: '#ffffff',
      }}
    >
      {specs.map((s, i) => (
        <ChartPanel key={i} spec={s} />
      ))}

      {/* panel a annotations */}
      <Txt x={219} y={67}>R<sup style={supStyle}>2</sup> = 0.91</Txt>
      <Txt x={219} y={98}>+/- 1.9</Txt>
      <Txt x={567} y={67}>R<sup style={supStyle}>2</sup> = 0.92</Txt>
      <Txt x={567} y={98}>+/- 1.8</Txt>
      <Txt x={415} y={266} anchor="right" lh={21}>
        without<br /><i>G. menardii</i><br />+ <i>G. tumida</i>
      </Txt>
      <Txt x={763} y={266} anchor="right" lh={21}>
        with<br /><i>G. menardii</i><br />+ <i>G. tumida</i>
      </Txt>

      <Txt x={63} y={168} rotate>Estimated SST ({degC})</Txt>
      <Txt x={63} y={513} rotate>SST Residual ({degC}) (Est.-Obs.)</Txt>
      <Txt x={283} y={732}>Observed Annual SST ({degC})</Txt>
      <Txt x={639} y={732}>Observed Annual SST ({degC})</Txt>
      <Txt x={857} y={22} size={30}>a</Txt>

      {/* panel b */}
      <Txt x={288} y={837}>SST Residual ({degC})</Txt>
      <Txt x={641} y={837}>SST Residual ({degC})</Txt>
      <Txt x={857} y={837} size={30}>b</Txt>
      <Txt x={25} y={1209} rotate>Water depth (m)</Txt>
      <Txt x={806} y={1317} anchor="left">Lysocline</Txt>
      <Txt x={289} y={1470} size={20} lh={24}>
        (a) without <i>G. menardii</i> +<br /><i>G. tumida</i>
      </Txt>
      <Txt x={641} y={1470} size={20} lh={24}>
        (b) with <i>G. menardii</i> +<br /><i>G. tumida</i>
      </Txt>
    </div>
  );
}
